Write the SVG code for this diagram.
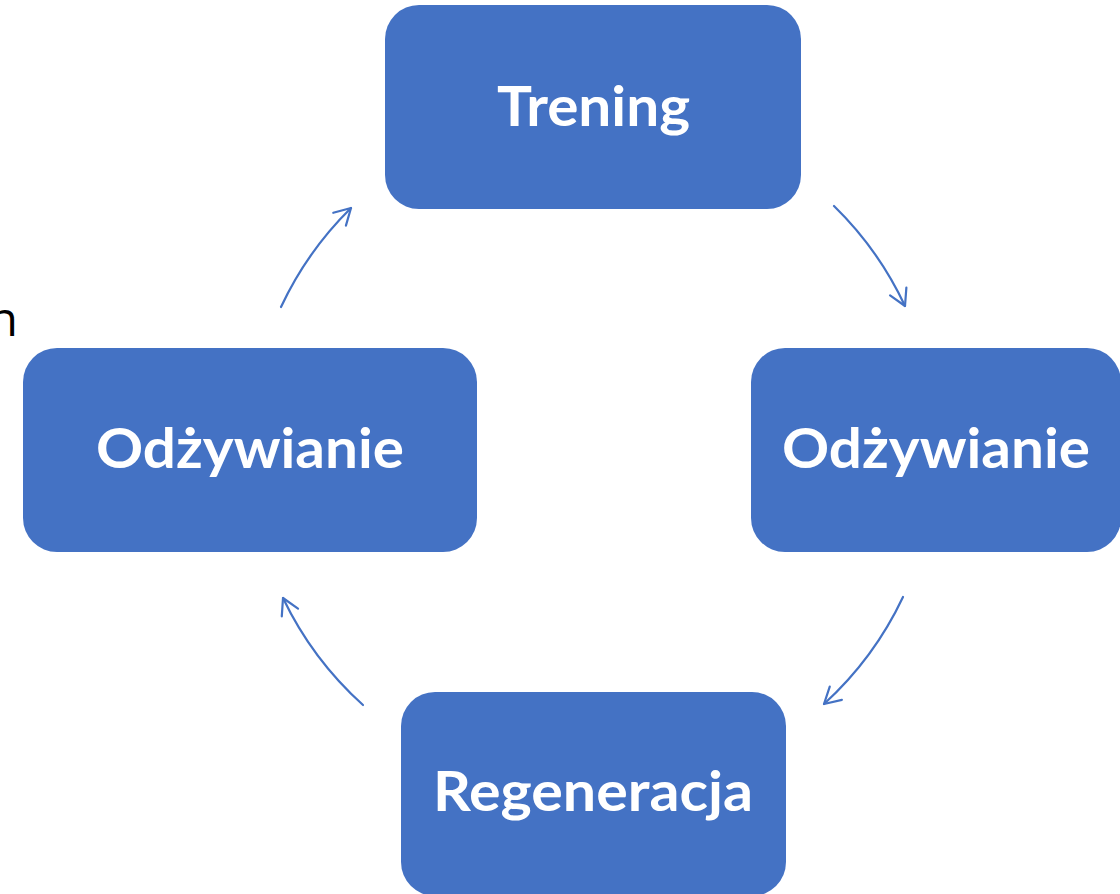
<svg xmlns="http://www.w3.org/2000/svg" width="1120" height="894" viewBox="0 0 1120 894">
<defs>
<style>
.box{fill:#4472C4;}
.lbl{fill:#FFFFFF;font-family:Lato,"Open Sans","Liberation Sans",sans-serif;font-weight:bold;font-size:56px;text-anchor:middle;}
.conn{fill:none;stroke:#4472C4;stroke-width:2.2;stroke-linecap:round;marker-end:url(#arrow);}
.side{fill:#000000;font-family:"Open Sans","Liberation Sans",sans-serif;font-size:48px;text-anchor:end;}
</style>
<marker id="arrow" markerUnits="userSpaceOnUse" viewBox="-20 -12 24 24" markerWidth="24" markerHeight="24" refX="0" refY="0" orient="auto">
<path d="M-16,-9 L0,0 L-16,9" fill="none" stroke="#4472C4" stroke-width="2.2" stroke-linecap="round" stroke-linejoin="round"/>
</marker>
</defs>
<rect width="1120" height="894" fill="#FFFFFF"/>
<text class="side" x="18" y="336">n</text>
<g id="connectors">
<path class="conn" d="M281,307 A343,343 0 0 1 351,208"/>
<path class="conn" d="M834,206 A343,343 0 0 1 905,306"/>
<path class="conn" d="M903,597 A343,343 0 0 1 824,704"/>
<path class="conn" d="M363,705 A343,343 0 0 1 283,598"/>
</g>
<g id="node-trening">
<rect class="box" x="385" y="5" width="416" height="204" rx="34" ry="34"/>
<text class="lbl" x="593.5" y="126" textLength="193" lengthAdjust="spacingAndGlyphs">Trening</text>
</g>
<g id="node-odzywianie-left">
<rect class="box" x="23" y="348" width="454" height="204" rx="34" ry="34"/>
<text class="lbl" x="250" y="468" textLength="308" lengthAdjust="spacingAndGlyphs">Odżywianie</text>
</g>
<g id="node-odzywianie-right">
<rect class="box" x="751" y="348" width="370" height="204" rx="34" ry="34"/>
<text class="lbl" x="936" y="468" textLength="308" lengthAdjust="spacingAndGlyphs">Odżywianie</text>
</g>
<g id="node-regeneracja">
<rect class="box" x="401" y="692" width="385" height="204" rx="34" ry="34"/>
<text class="lbl" x="593" y="811" textLength="320" lengthAdjust="spacingAndGlyphs">Regeneracja</text>
</g>
</svg>
